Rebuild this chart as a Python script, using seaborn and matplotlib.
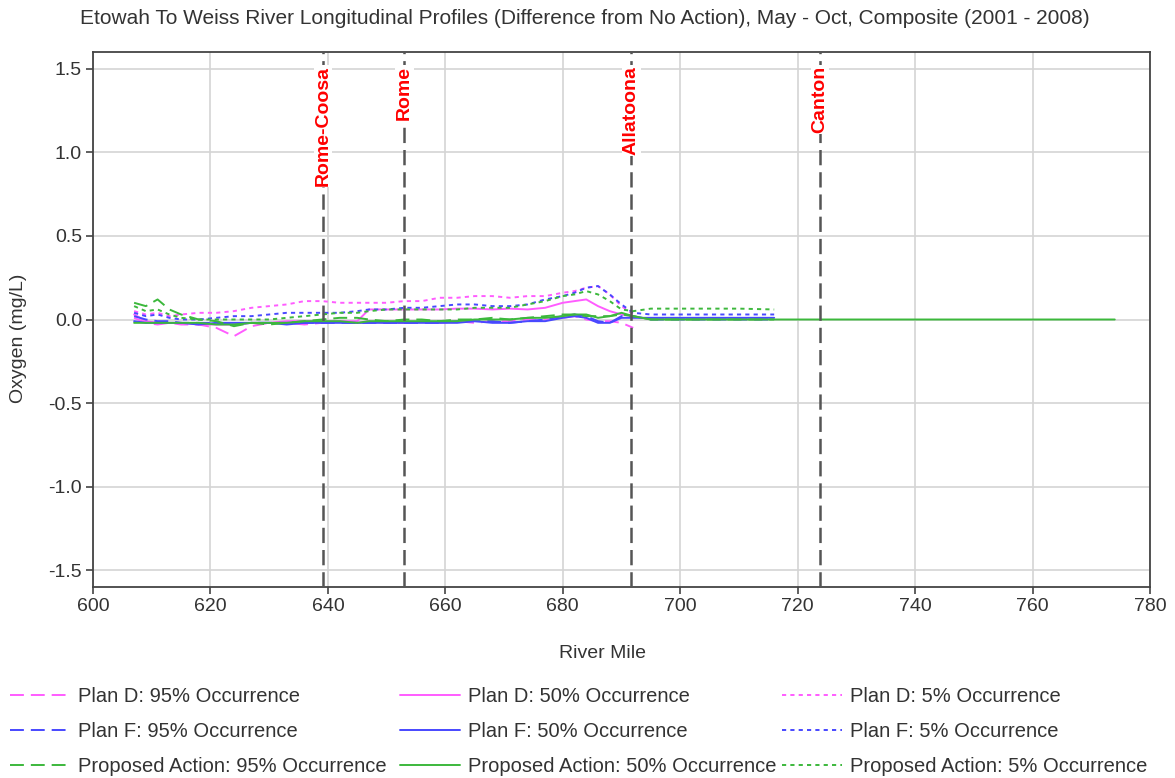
import numpy as np
import pandas as pd
import seaborn as sns
import matplotlib.pyplot as plt

# river miles
MILE_UPPER = [607, 609, 611, 613, 615, 618, 621, 624, 627, 630, 633, 636, 639, 642, 645, 647, 650,
              653, 656, 659, 662, 665, 668, 671, 674, 677, 680, 682, 684, 686, 688, 690, 692]
MILE_LOWER = [695, 700, 705, 710, 716]
MILE_TAIL = [720, 730, 740, 750, 760, 774]

d95 = [0.01, -0.02, -0.03, -0.02, -0.03, -0.03, -0.05, -0.10, -0.04, -0.02, -0.02, -0.03, -0.02,
       -0.01, -0.02, -0.01, -0.02, -0.02, -0.01, -0.02, -0.01, -0.02, -0.01, -0.01, 0.00, 0.00,
       0.01, 0.02, 0.00, -0.01, -0.01, -0.02, -0.05]
d50 = [0.03, -0.01, -0.02, -0.02, -0.02, -0.03, -0.03, -0.03, -0.02, -0.02, -0.01, -0.01, -0.01,
       -0.01, -0.01, 0.06, 0.06, 0.06, 0.06, 0.06, 0.065, 0.065, 0.06, 0.065, 0.06, 0.07, 0.10,
       0.11, 0.12, 0.08, 0.05, 0.03, 0.02]
d5 = [0.05, 0.03, 0.04, 0.02, 0.03, 0.04, 0.04, 0.05, 0.07, 0.08, 0.09, 0.11, 0.11, 0.10, 0.10,
      0.10, 0.10, 0.11, 0.11, 0.13, 0.13, 0.14, 0.14, 0.13, 0.14, 0.14, 0.16, 0.17, 0.19, 0.20,
      0.15, 0.08, 0.03]

f95 = [0.02, 0.00, -0.01, -0.01, -0.02, -0.02, -0.02, -0.03, -0.02, -0.02, -0.02, -0.02, -0.02,
       -0.02, -0.02, -0.02, -0.02, -0.02, -0.02, -0.02, -0.01, -0.01, -0.01, -0.02, -0.01, 0.00,
       0.02, 0.03, 0.02, -0.01, -0.02, 0.02, 0.02,
       0.00, 0.00, 0.00, 0.00, 0.00]
f50 = [-0.01, -0.02, -0.02, -0.02, -0.02, -0.03, -0.02, -0.02, -0.02, -0.02, -0.03, -0.02, -0.02,
       -0.02, -0.02, -0.02, -0.02, -0.02, -0.02, -0.02, -0.02, -0.01, -0.02, -0.02, -0.01, -0.01,
       0.01, 0.02, 0.01, -0.02, -0.02, 0.01, 0.01,
       0.01, 0.01, 0.01, 0.01, 0.01]
f5 = [0.04, 0.02, 0.03, 0.01, 0.00, 0.00, 0.01, 0.02, 0.02, 0.03, 0.04, 0.04, 0.04, 0.04, 0.05,
      0.06, 0.06, 0.07, 0.07, 0.08, 0.09, 0.09, 0.08, 0.08, 0.09, 0.12, 0.14, 0.16, 0.19, 0.20,
      0.15, 0.09, 0.04,
      0.03, 0.03, 0.03, 0.03, 0.03]

p95 = [0.10, 0.08, 0.12, 0.06, 0.03, 0.00, -0.01, -0.04, -0.02, -0.03, -0.02, -0.01, 0.00, 0.01,
       0.01, 0.00, -0.01, 0.00, 0.00, -0.01, 0.00, 0.00, 0.01, 0.00, 0.01, 0.02, 0.03, 0.03, 0.02,
       0.02, 0.02, 0.03, 0.02,
       0.00, 0.00, 0.00, 0.00, 0.00]
p50 = [-0.02, -0.02, -0.02, -0.02, -0.02, -0.02, -0.03, -0.03, -0.02, -0.02, -0.02, -0.01, -0.01,
       -0.01, -0.02, -0.01, -0.01, -0.01, -0.01, -0.01, -0.01, 0.00, 0.00, 0.00, 0.01, 0.01, 0.02,
       0.03, 0.03, 0.01, 0.02, 0.04, 0.02,
       0.00, 0.00, 0.00, 0.00, 0.00,
       0.00, 0.00, 0.00, 0.00, 0.00, 0.00]
p5 = [0.08, 0.05, 0.06, 0.03, 0.01, 0.00, 0.00, 0.00, 0.00, 0.00, 0.01, 0.02, 0.03, 0.04, 0.04,
      0.05, 0.06, 0.06, 0.06, 0.06, 0.06, 0.07, 0.07, 0.07, 0.09, 0.11, 0.14, 0.15, 0.17, 0.15,
      0.11, 0.06, 0.05,
      0.065, 0.065, 0.065, 0.065, 0.06]

DAMS = ["Rome-Coosa", "Rome", "Allatoona", "Canton"]
DAM_MILES = [639.2, 653.0, 691.7, 723.8]

PLAN_COLORS = {"Plan D": "#ff5cff", "Plan F": "#4848ff", "Proposed Action": "#3cb83c"}
OCC_DASHES = {"95%": (10, 5), "50%": (None, None), "5%": (3, 3)}

series = [
    ("Plan D", "95%", MILE_UPPER, d95),
    ("Plan D", "50%", MILE_UPPER, d50),
    ("Plan D", "5%", MILE_UPPER, d5),
    ("Plan F", "95%", MILE_UPPER + MILE_LOWER, f95),
    ("Plan F", "50%", MILE_UPPER + MILE_LOWER, f50),
    ("Plan F", "5%", MILE_UPPER + MILE_LOWER, f5),
    ("Proposed Action", "95%", MILE_UPPER + MILE_LOWER, p95),
    ("Proposed Action", "50%", MILE_UPPER + MILE_LOWER + MILE_TAIL, p50),
    ("Proposed Action", "5%", MILE_UPPER + MILE_LOWER, p5),
]

sns.set_style("white")
plt.rcParams['font.family'] = ['Liberation Sans', 'DejaVu Sans']
plt.rcParams['lines.scale_dashes'] = False

fig = plt.figure(figsize=(11.75, 7.78), dpi=100)
ax = fig.add_axes([93 / 1175, 1 - 587 / 778, 1057 / 1175, 535 / 778])

handles = {}
for plan, occ, miles, vals in series:
    df = pd.DataFrame({"mile": miles, "oxygen": vals})
    sns.lineplot(data=df, x="mile", y="oxygen", ax=ax, color=PLAN_COLORS[plan],
                 linewidth=1.4, estimator=None, sort=False, legend=False)
    line = ax.lines[-1]
    dash = OCC_DASHES[occ]
    if dash[0] is not None:
        line.set_dashes(dash)
    line.set_label(f"{plan}: {occ} Occurrence")
    handles[(plan, occ)] = line

for name, mile in zip(DAMS, DAM_MILES):
    ax.axvline(mile, color="#555555", linewidth=1.8, dashes=(11, 5), zorder=3)
    ax.text(mile, 1.515, name, rotation=90, ha="center", va="top", color="red",
            fontsize=14, fontweight="bold", zorder=4,
            bbox=dict(facecolor="white", edgecolor="none", pad=0.5))

ax.set_xlim(600, 780)
ax.set_ylim(-1.6, 1.6)
ax.set_xticks(np.arange(600, 781, 20))
ax.set_yticks(np.arange(-1.5, 1.51, 0.5))
ax.set_yticklabels([f"{v:.1f}" for v in np.arange(-1.5, 1.51, 0.5)])
ax.grid(True, color="#d4d4d4", linewidth=1.2)
ax.set_axisbelow(True)
for sp in ax.spines.values():
    sp.set_color("#444444")
    sp.set_linewidth(1.3)
ax.tick_params(direction="out", length=5, width=1.2, color="#444444",
               labelsize=14, labelcolor="#333333", pad=3, left=True, bottom=True)

ax.set_xlabel("River Mile", fontsize=14, color="#333333")
ax.set_ylabel("Oxygen (mg/L)", fontsize=14, color="#333333")
ax.xaxis.set_label_coords(0.482, -0.108)
ax.yaxis.set_label_coords(-0.062, 0.465)

fig.text(0.498, 1 - 18 / 778, "Etowah To Weiss River Longitudinal Profiles (Difference from No Action), "
         "May - Oct, Composite (2001 - 2008)", ha="center", va="center", fontsize=15, color="#333333")

# one legend per occurrence column, placed at the reference's column positions
for occ, x0 in zip(["95%", "50%", "5%"], [10, 400, 782]):
    keys = [(p, occ) for p in ["Plan D", "Plan F", "Proposed Action"]]
    leg = fig.legend([handles[k] for k in keys], [handles[k].get_label() for k in keys],
                     loc="upper left", bbox_to_anchor=(x0 / 1175, 1 - 687 / 778),
                     frameon=False, fontsize=14.5, handlelength=3.0, handletextpad=0.4,
                     labelspacing=0.79, borderpad=0, borderaxespad=0)
    for t in leg.get_texts():
        t.set_color("#333333")

fig.savefig("out.png", dpi=100)
